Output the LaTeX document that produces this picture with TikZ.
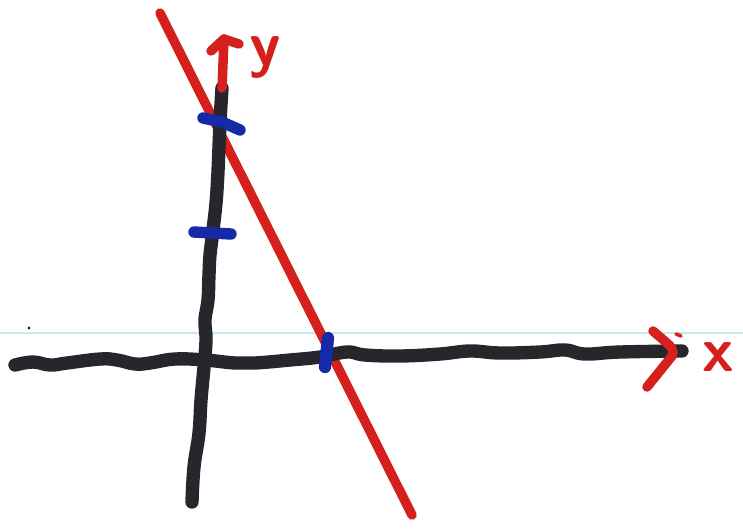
\documentclass[tikz,border=0pt]{standalone}
\usepackage{tikz}
\usetikzlibrary{calc}
\definecolor{ink}{RGB}{38,38,44}
\definecolor{pen}{RGB}{214,32,30}
\definecolor{blu}{RGB}{22,42,168}
\definecolor{scan}{RGB}{196,234,240}
\tikzset{
  axis/.style={draw=ink,line width=7.6pt,line cap=round,line join=round},
  redpen/.style={draw=pen,line width=5.4pt,line cap=round,line join=round},
  bluetick/.style={draw=blu,line width=6.5pt,line cap=round,line join=round},
  lbl/.style={text=pen,font=\sffamily\bfseries\fontsize{36}{36}\selectfont,inner sep=0pt}
}
\begin{document}
\begin{tikzpicture}[x=0.02cm,y=-0.02cm]
\useasboundingbox (0,0) rectangle (743,529);
\draw[scan,line width=0.6pt] (0,333) -- (743,333);
\fill[ink] (29,328) circle (1.6);
% end points
\coordinate (xl) at (15,365);
\coordinate (xr) at (682,351);
\coordinate (yb) at (192,502);
\coordinate (yt) at (222,88);
\coordinate (ytip) at (224,39);
\coordinate (xtip) at (672,356);
\coordinate (lt) at (160,13);
\coordinate (lb) at (412,515);
% the line
\draw[redpen] (lt) -- (lb);
% axes
\draw[axis] plot[smooth,tension=0.7] coordinates {(xl) (33,362) (50,365) (67,363) (100,359) (117,360)
  (135,364) (150,363) (175,359) (205,360) (235,363) (255,363) (290,360) (320,357) (347,352) (365,355)
  (400,356) (440,354) (470,351) (500,353) (540,352) (565,350) (585,354) (620,352) (xr)};
\draw[axis] plot[smooth,tension=0.7] coordinates {(yb) (194,467) (199,433) (201,400) (204,367) (206,340)
  (205,320) (208,300) (209,275) (210,255) (213,230) (217,190) (220,123) (yt)};
% arrows
\draw[redpen] (yt) -- (ytip);
\draw[redpen] (211,51) -- (ytip) -- (239,44);
\draw[redpen] (653,331) -- (667,343) to[out=-40,in=60] (xtip) -- (647,387);
\draw[redpen,line width=2pt] (676,334) -- (681,336);
% ticks
\draw[bluetick] (203,118) -- (222,122) -- (240,130);
\draw[bluetick] (194,232) -- (231,234);
\draw[bluetick,line width=7pt] (328,338) -- (325,367);
% labels
\node[lbl] (ylab) at (265,57) {y};
\node[lbl] (xlab) at (718,357) {x};
\end{tikzpicture}
\end{document}
